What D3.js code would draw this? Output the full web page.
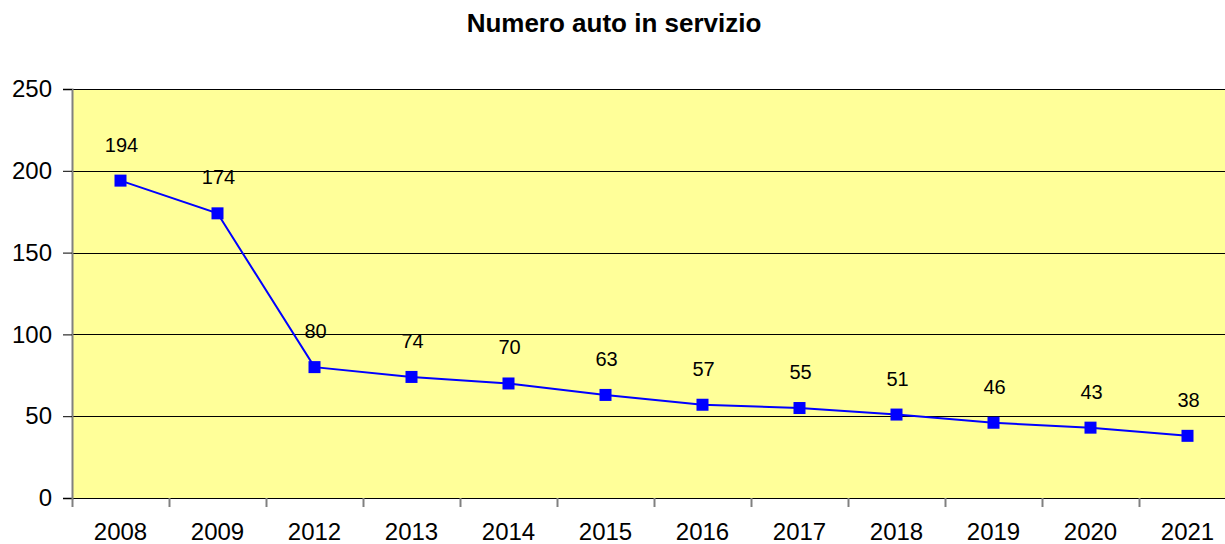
<!DOCTYPE html>
<html><head><meta charset="utf-8">
<script src="https://cdn.jsdelivr.net/npm/d3@7"></script>
<style>body{margin:0;background:#fff}svg{display:block}</style>
</head><body>
<svg id="c" width="1225" height="544"></svg>
<script>
const categories = ["2008","2009","2012","2013","2014","2015","2016","2017","2018","2019","2020","2021"];
const values = [194,174,80,74,70,63,57,55,51,46,43,38];
const yTicks = [0,50,100,150,200,250];
const title = "Numero auto in servizio";

const svg = d3.select("#c");
const m = {left:72, top:89, right:1236, bottom:498};
const x = d3.scaleBand().domain(categories).range([m.left, m.right]);
const y = d3.scaleLinear().domain([0,250]).range([m.bottom, m.top]);
const font = "Arial, 'Liberation Sans', sans-serif";

svg.append("rect").attr("x",m.left).attr("y",m.top).attr("width",m.right-m.left).attr("height",m.bottom-m.top).attr("fill","#FFFF99");

// grid
svg.append("g").selectAll("line").data(yTicks.filter(d=>d>0)).join("line")
  .attr("x1",m.left).attr("x2",m.right).attr("y1",d=>Math.round(y(d))+0.5).attr("y2",d=>Math.round(y(d))+0.5)
  .attr("stroke","#000").attr("stroke-width",1);

// y axis
const ya = svg.append("g").attr("transform",`translate(${m.left},0)`)
  .call(d3.axisLeft(y).tickValues(yTicks).tickSize(9).tickPadding(11));
ya.select(".domain").attr("stroke","#808080").attr("stroke-width",2);
ya.selectAll(".tick line").attr("stroke","#000");
ya.selectAll("text").attr("font-family",font).attr("font-size",24).attr("fill","#000");

// x axis
svg.append("line").attr("x1",m.left).attr("x2",m.right).attr("y1",m.bottom+0.5).attr("y2",m.bottom+0.5).attr("stroke","#000");
const bounds = categories.map(c=>x(c)).concat([m.right]);
svg.append("g").selectAll("line").data(bounds).join("line")
  .attr("x1",d=>Math.round(d)+0.5).attr("x2",d=>Math.round(d)+0.5).attr("y1",m.bottom).attr("y2",m.bottom+9)
  .attr("stroke","#808080").attr("stroke-width",2);
svg.append("g").selectAll("text").data(categories).join("text")
  .attr("x",d=>x(d)+x.bandwidth()/2).attr("y",540).attr("text-anchor","middle")
  .attr("font-family",font).attr("font-size",24).text(d=>d);

// line
const cx = (d,i)=>x(categories[i])+x.bandwidth()/2;
svg.append("path").datum(values)
  .attr("d", d3.line().x((d,i)=>cx(d,i)).y(d=>y(d)))
  .attr("fill","none").attr("stroke","#0000FF").attr("stroke-width",2);
svg.append("g").selectAll("rect").data(values).join("rect")
  .attr("x",(d,i)=>cx(d,i)-6).attr("y",d=>y(d)-6).attr("width",12).attr("height",12).attr("fill","#0000FF");
svg.append("g").selectAll("text").data(values).join("text")
  .attr("x",(d,i)=>cx(d,i)+1).attr("y",d=>y(d)-29).attr("text-anchor","middle")
  .attr("font-family",font).attr("font-size",20).text(d=>d);

svg.append("text").attr("x",614).attr("y",32).attr("text-anchor","middle")
  .attr("font-family",font).attr("font-size",26).attr("font-weight","bold").text(title);
</script>
</body></html>
